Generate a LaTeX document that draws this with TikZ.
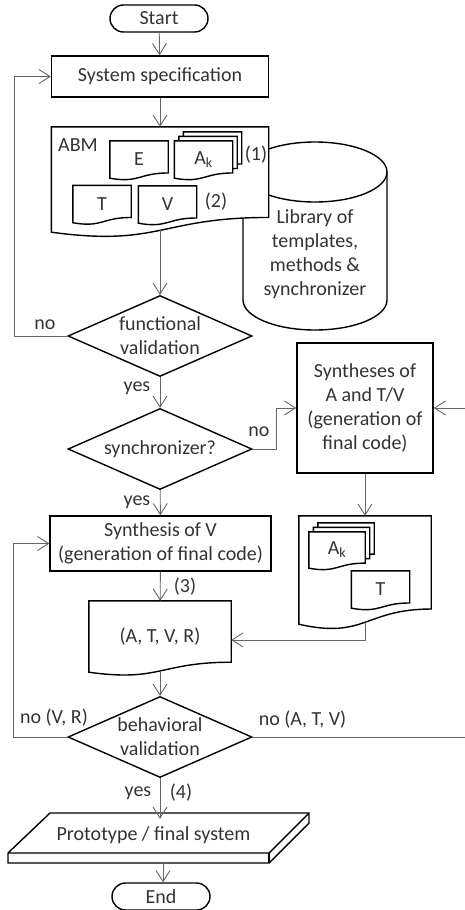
\documentclass[tikz,border=0pt]{standalone}
\usepackage{fontspec}
\setmainfont{Carlito}
\usetikzlibrary{arrows.meta,calc,shapes.geometric,shapes.misc}
\pgfdeclarelayer{background}
\pgfsetlayers{background,main}

% document symbol drawn behind a named node
\newcommand\docpath[1]{%
  \begin{pgfonlayer}{background}
    \draw[outline,fill=white] (#1.north west) -- (#1.north east)
      -- ($(#1.south east)!0.14!(#1.north east)$)
      .. controls ($(#1.south)!0.14!(#1.north)$) and ($(#1.south)!-0.14!(#1.north)$) .. (#1.south west) -- cycle;
  \end{pgfonlayer}}

\begin{document}
\begin{tikzpicture}[x=1pt,y=-1pt,
    every node/.style={font=\fontsize{20}{24}\selectfont,text=black!80},
    outline/.style={draw=black,line width=1.4pt},
    conn/.style={draw=black!60,line width=0.9pt,-{Straight Barb[length=11pt,width=14pt]}},
    process/.style={outline,rectangle,align=center,inner sep=0pt},
    decision/.style={outline,diamond,aspect=2.3,align=center,inner sep=0pt,minimum width=184pt,minimum height=81pt},
    terminal/.style={outline,rounded rectangle,minimum width=98pt,minimum height=27pt,inner sep=0pt},
    doc/.style={inner sep=0pt,align=center},
    small doc/.style={doc,minimum width=58pt,minimum height=37pt},
    remark/.style={inner sep=0pt}]
  \useasboundingbox (0,0) rectangle (464,910);

  \node[terminal] (start) at (159,18.5) {Start};
  \node[process,minimum width=217pt,minimum height=41pt] (spec) at (160,76.5) {System specification};

  % library, partly hidden by the ABM
  \begin{pgfonlayer}{background}
    \draw[outline,fill=white] (243,172) -- (243,300) arc[start angle=180,end angle=360,x radius=72pt,y radius=30pt]
      -- (387,172) arc[start angle=0,end angle=180,x radius=72pt,y radius=30pt] -- cycle;
    \draw[outline] (243,172) arc[start angle=180,end angle=360,x radius=72pt,y radius=30pt];
  \end{pgfonlayer}
  \node[align=center] (lib) at (315,254) {Library of\\templates,\\methods \&\\synchronizer};

  % ABM with its parts
  \node[doc,minimum width=217pt,minimum height=105pt] (abm) at (160,179.5) {};
  \docpath{abm}
  \node[remark,anchor=west] (abmname) at (58,145) {ABM};
  \node[small doc] (e) at (139,159.5) {E};
  \docpath{e}
  \node[small doc] (ak) at (203.5,159.5) {A\textsubscript{k}};
  \foreach \i in {2,1} {
    \node[small doc] (ak\i) at ($(ak)+(4.5*\i,-4.5*\i)$) {};
    \docpath{ak\i}
  }
  \docpath{ak}
  \node[remark] (one) at (256,155) {(1)};
  \node[small doc] (t) at (102,204) {T};
  \docpath{t}
  \node[small doc] (v) at (167.5,204.5) {V};
  \docpath{v}
  \node[remark] (two) at (216,202) {(2)};

  \node[decision] (fval) at (160,336) {functional\\validation};
  \node[decision] (sync) at (160,449) {synchronizer?};
  \node[process,minimum width=136pt,minimum height=130pt] (syn) at (365,408) {Syntheses of\\A and T/V\\(generation of\\final code)};
  \node[process,minimum width=221pt,minimum height=55pt] (synv) at (160.5,543.5) {Synthesis of V\\(generation of final code)};

  % output of the syntheses
  \node[doc,minimum width=132pt,minimum height=108pt] (out) at (365,570) {};
  \docpath{out}
  \node[doc,minimum width=56pt,minimum height=36pt] (ako) at (337,550) {A\textsubscript{k}};
  \foreach \i in {2,1} {
    \node[doc,minimum width=56pt,minimum height=36pt] (ako\i) at ($(ako)+(4.5*\i,-4.5*\i)$) {};
    \docpath{ako\i}
  }
  \docpath{ako}
  \node[small doc] (to) at (380.5,589.5) {T};
  \docpath{to}

  \node[doc,minimum width=142pt,minimum height=71pt] (atvr) at (160,636.5) {(A, T, V, R)};
  \docpath{atvr}
  \node[decision] (bval) at (160,737) {behavioral\\validation};

  % prototype slab
  \draw[outline] (50,813) -- (309,813) -- (309,823) -- (269,863) -- (8,863) -- (8,853) -- cycle;
  \draw[outline] (8,853) -- (269,853) -- (309,813);
  \draw[outline] (269,853) -- (269,863);
  \node[minimum height=44pt,inner sep=0pt] (proto) at (153.5,835) {Prototype / final system};
  \coordinate (base) at (163,863);
  \node[terminal] (end) at (161,896.5) {End};

  % connectors
  \draw[conn] (start) -- (spec);
  \draw[conn] (spec) -- (abm);
  \draw[conn] ([yshift=2pt]abm.south) -- (fval);
  \draw[conn] (fval.west) -- ++(-53,0) |- (spec.west);
  \draw[conn] (fval) -- (sync);
  \draw[conn] (sync.east) -- ++(24,0) |- (syn.west);
  \draw[conn] (sync) -- (synv);
  \draw[conn] (syn) -- (out);
  \draw[conn] ([yshift=2pt]out.south) |- ([yshift=-3.5pt]atvr.east);
  \draw[conn] (synv) -- (atvr);
  \draw[conn] ([yshift=1pt]atvr.south) -- (bval);
  \draw[conn] (bval.west) -- ++(-54,0) |- (synv.west);
  \coordinate (rim) at (467,408);
  \draw[conn] (bval.east) -| (rim) -- (syn.east);
  \draw[conn,shorten >=-6pt] (bval) -- (bval.south |- proto.north);
  \draw[conn] (base) -- (base |- end.north);

  \node[remark] (nofval) at (45,325) {no};
  \node[remark] (yesfval) at (137,388) {yes};
  \node[remark] (nosync) at (259,432) {no};
  \node[remark] (yessync) at (137,502) {yes};
  \node[remark] (three) at (185,587) {(3)};
  \node[remark] (novr) at (54,718) {no (V, R)};
  \node[remark] (noatv) at (302.5,720) {no (A, T, V)};
  \node[remark] (yesbval) at (138,793) {yes};
  \node[remark] (four) at (181,793) {(4)};
\end{tikzpicture}
\end{document}
